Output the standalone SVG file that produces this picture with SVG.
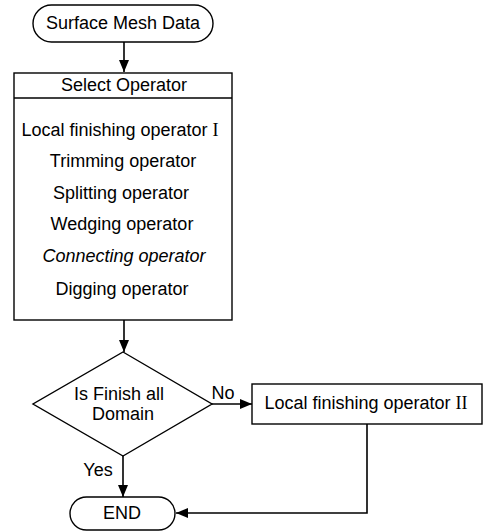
<svg xmlns="http://www.w3.org/2000/svg" width="483" height="531" viewBox="0 0 483 531">
<style>
.s{fill:#fff;stroke:#000;stroke-width:1.4}
.t{font-family:"Liberation Sans",Arial,sans-serif;font-size:18px;fill:#000;text-anchor:middle;dominant-baseline:central}
.r{font-family:"Liberation Serif","Times New Roman",serif}
.c{fill:none;stroke:#000;stroke-width:1.6}
</style>
<defs>
<marker id="ah" viewBox="0 0 12 10" refX="12" refY="5" markerWidth="12" markerHeight="10" markerUnits="userSpaceOnUse" orient="auto">
<path d="M0,0L12,5L0,10Z" fill="#000"/>
</marker>
</defs>
<rect width="483" height="531" fill="#fff"/>
<g id="connectors">
<path class="c" d="M124,42V72" marker-end="url(#ah)"/>
<path class="c" d="M124,320V352" marker-end="url(#ah)"/>
<path class="c" d="M212,404H252" marker-end="url(#ah)"/>
<path class="c" d="M123,456V497" marker-end="url(#ah)"/>
<path class="c" d="M367,424V513H176" marker-end="url(#ah)"/>
</g>
<g id="start">
<rect class="s" x="33" y="5" width="180" height="37" rx="18.5"/>
<text class="t" x="123" y="23">Surface Mesh Data</text>
</g>
<g id="select">
<rect class="s" x="14" y="73" width="218" height="247"/>
<line class="s" x1="14" y1="98" x2="232" y2="98"/>
<text class="t" x="124" y="85">Select Operator</text>
<text class="t" x="120" y="130">Local finishing operator <tspan class="r">I</tspan></text>
<text class="t" x="123" y="161">Trimming operator</text>
<text class="t" x="121" y="193">Splitting operator</text>
<text class="t" x="122" y="224">Wedging operator</text>
<text class="t" x="124" y="256" font-style="italic">Connecting operator</text>
<text class="t" x="122" y="289">Digging operator</text>
</g>
<g id="decision">
<polygon class="s" points="123,352 212,404 123,456 33,404"/>
<text class="t" x="119" y="394">Is Finish all</text>
<text class="t" x="123" y="414">Domain</text>
</g>
<g id="labels">
<text class="t" x="223" y="393">No</text>
<text class="t" x="98" y="470">Yes</text>
</g>
<g id="local2">
<rect class="s" x="252" y="384" width="230" height="40"/>
<text class="t" x="366" y="403">Local finishing operator <tspan class="r">II</tspan></text>
</g>
<g id="end">
<rect class="s" x="70" y="497" width="105" height="33" rx="16.5"/>
<text class="t" x="122" y="513">END</text>
</g>
</svg>
